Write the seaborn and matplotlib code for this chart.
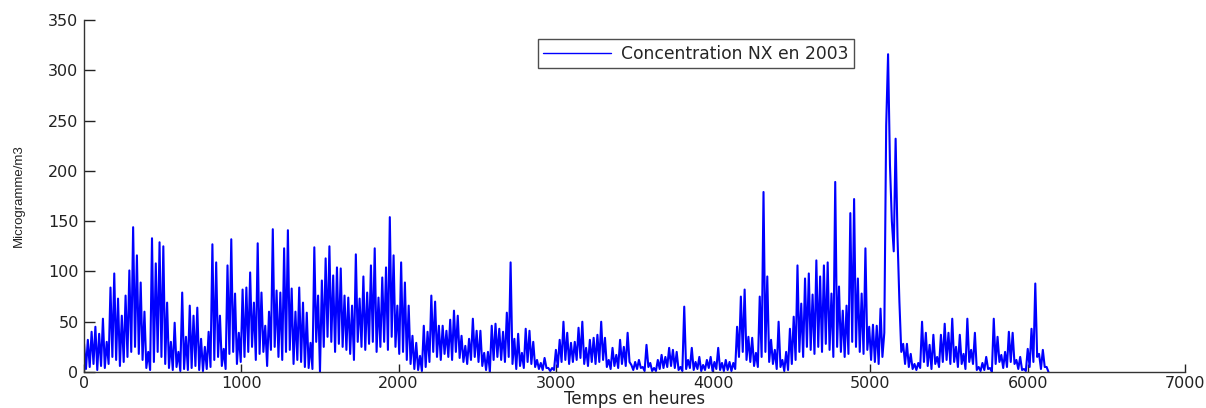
import numpy as np
import pandas as pd
import seaborn as sns
from matplotlib import pyplot as plt

# NX concentration, one daily high (hours 0, 24, 48 ...)
# and one low between them (hours 12, 36, 60 ...)
highs = [28, 32, 40, 45, 38, 53, 30, 84, 98, 73,
         56, 76, 101, 144, 116, 89, 60, 20, 133, 108,
         129, 125, 69, 30, 49, 20, 79, 35, 66, 56,
         64, 33, 25, 40, 127, 109, 56, 23, 106, 132,
         78, 39, 82, 84, 99, 69, 128, 79, 46, 60,
         142, 81, 79, 123, 141, 83, 60, 84, 69, 59,
         29, 124, 76, 91, 113, 125, 96, 104, 103, 76,
         74, 66, 117, 73, 95, 79, 106, 123, 74, 94,
         104, 154, 116, 66, 109, 89, 66, 36, 29, 16,
         46, 40, 76, 70, 46, 46, 41, 52, 61, 56,
         36, 26, 33, 53, 41, 41, 19, 20, 46, 48,
         43, 40, 59, 109, 33, 38, 19, 43, 41, 30,
         12, 9, 14, 4, 4, 22, 32, 50, 39, 29,
         30, 44, 50, 24, 32, 34, 37, 50, 34, 12,
         24, 17, 32, 25, 39, 7, 10, 12, 5, 27,
         9, 4, 12, 17, 15, 24, 22, 20, 5, 65,
         12, 24, 10, 15, 7, 12, 15, 10, 24, 9,
         12, 10, 9, 45, 75, 82, 35, 34, 19, 75,
         179, 95, 32, 22, 50, 12, 20, 43, 55, 106,
         68, 93, 98, 77, 111, 95, 106, 109, 78, 189,
         85, 61, 66, 158, 172, 93, 78, 123, 45, 47,
         46, 63, 39, 316, 150, 232, 70, 28, 28, 18,
         8, 9, 50, 39, 27, 37, 15, 37, 48, 39,
         53, 25, 37, 18, 53, 22, 39, 5, 9, 15,
         4, 53, 35, 17, 20, 40, 39, 12, 15, 3,
         23, 43, 88, 18, 22, 5]

lows = [3, 5, 8, 2, 6, 4, 8, 15, 12, 6,
        10, 15, 20, 25, 18, 12, 4, 2, 10, 20,
        15, 8, 4, 2, 5, 1, 3, 2, 4, 6,
        2, 1, 3, 5, 12, 15, 6, 3, 18, 20,
        8, 10, 15, 20, 25, 12, 18, 20, 6, 22,
        25, 15, 12, 20, 22, 8, 12, 10, 5, 4,
        3, 30, 0, 25, 35, 30, 20, 28, 25, 22,
        18, 12, 30, 25, 22, 28, 30, 20, 25, 30,
        22, 35, 25, 18, 20, 12, 8, 3, 2, 1,
        5, 10, 20, 15, 12, 18, 15, 12, 20, 14,
        10, 8, 12, 15, 10, 6, 2, 0, 12, 15,
        12, 10, 15, 8, 3, 6, 4, 10, 8, 5,
        3, 2, 4, 1, 2, 5, 10, 12, 8, 10,
        12, 14, 8, 6, 10, 8, 10, 12, 5, 3,
        6, 4, 8, 6, 10, 2, 3, 4, 1, 5,
        1, 1, 3, 4, 5, 6, 4, 2, 1, 3,
        4, 2, 3, 1, 2, 4, 1, 3, 2, 1,
        2, 1, 3, 15, 20, 12, 10, 6, 5, 15,
        20, 10, 8, 3, 5, 1, 2, 8, 12, 20,
        15, 25, 22, 18, 25, 20, 28, 22, 15, 25,
        20, 15, 18, 30, 25, 20, 18, 22, 12, 10,
        8, 15, 245, 206, 120, 134, 20, 8, 5, 3,
        2, 4, 10, 6, 3, 8, 5, 10, 12, 8,
        10, 5, 8, 3, 10, 8, 2, 1, 2, 3,
        0, 8, 10, 4, 5, 10, 8, 3, 2, 1,
        5, 10, 15, 3, 5, 0]

step = 12
nx = np.column_stack([highs, lows]).ravel()
df = pd.DataFrame({"heure": np.arange(len(nx)) * step, "nx": nx})

sns.set_theme(style="ticks")
plt.rcParams['font.family'] = ['DejaVu Sans']

fig = plt.figure(figsize=(12.06, 4.08), dpi=100)
ax = fig.add_axes([0.0697, 0.0882, 0.9129, 0.8627])

sns.lineplot(data=df, x="heure", y="nx", color="#0000ff", linewidth=1.5,
             estimator=None, sort=False, ax=ax, label="Concentration NX en 2003")

ax.set_xlim(0, 7000)
ax.set_ylim(0, 350)
ax.set_xticks(range(0, 7001, 1000))
ax.set_yticks(range(0, 351, 50))
ax.tick_params(axis='y', direction='in', length=8, width=1, labelsize=11.5,
               colors='#222222', pad=4)
ax.tick_params(axis='x', direction='in', length=6, width=1, labelsize=11.5,
               colors='#222222', pad=3)
sns.despine(ax=ax)
for s in ['left', 'bottom']:
    ax.spines[s].set_color('#333333')
    ax.spines[s].set_linewidth(1.0)

ax.set_xlabel('Temps en heures', fontsize=12, labelpad=-1, color='#222222')
ax.set_ylabel('Microgramme/m3', fontsize=9.5, family='Liberation Sans',
              labelpad=17, color='#222222')

leg = ax.legend(loc='upper left', bbox_to_anchor=(0.412, 0.945), fontsize=12.3,
                frameon=True, fancybox=False, shadow=False, borderpad=0.3,
                handlelength=4.0, handletextpad=0.6, borderaxespad=0)
leg.get_frame().set_edgecolor('#222222')
leg.get_frame().set_linewidth(1.0)
leg.get_lines()[0].set_linewidth(1.0)

fig.savefig('out.png', dpi=100, facecolor='white')
